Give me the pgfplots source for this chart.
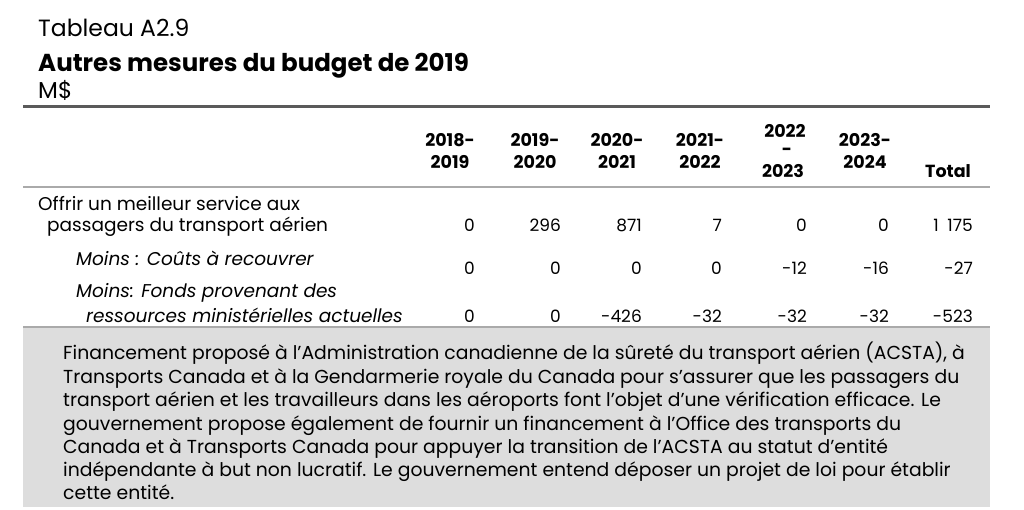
\documentclass[border=0pt]{standalone}
\usepackage{pgfplots}
\pgfplotsset{compat=1.18}
\usepackage{pgfplotstable}
\usepackage{fontspec}
\setmainfont{Poppins}
\definecolor{boxgray}{RGB}{221,221,221}
\definecolor{rulegray}{RGB}{90,90,90}
\definecolor{lightrule}{RGB}{170,170,170}
\pgfplotstableread{
x y label
475 232 0
561 232 296
642 232 871
722 232 7
807 232 0
889 232 0
973 232 {1\enspace175}
475 275 0
561 275 0
642 275 0
722 275 0
807 275 -12
889 275 -16
973 275 -27
475 322 0
561 322 0
642 322 -426
722 322 -32
807 322 -32
889 322 -32
973 322 -523
}\values
\newcommand{\hd}{\fontsize{17.5}{20}\selectfont\bfseries}
\newcommand{\rl}{\fontsize{18.5}{21}\selectfont}
\newcommand{\vl}{\fontsize{17}{20}\selectfont}
\newcommand{\bx}{\fontsize{18.8}{22}\selectfont}
\begin{document}
\begin{tikzpicture}
\begin{axis}[
  width=1024pt, height=510pt, scale only axis,
  xmin=0, xmax=1024, ymin=0, ymax=510, y dir=reverse,
  hide axis, clip=false,
]
\path (axis cs:0,0) rectangle (axis cs:1024,510);
% titles
\node[anchor=base west, inner sep=0pt, font=\fontsize{23.5}{26}\selectfont] at (axis cs:38,37) {Tableau A2.9};
\node[anchor=base west, inner sep=0pt, font=\fontsize{24.5}{26}\selectfont\bfseries] at (axis cs:38,72) {Autres mesures du budget de 2019};
\node[anchor=base west, inner sep=0pt, font=\fontsize{23}{26}\selectfont] at (axis cs:38,99) {M\$};
% rules
\draw[line width=3pt, rulegray] (axis cs:23,107) -- (axis cs:990,107);
\draw[line width=1.5pt, lightrule] (axis cs:23,187) -- (axis cs:990,187);
\draw[line width=1.5pt, lightrule] (axis cs:23,327) -- (axis cs:990,327);
% header
\node[anchor=base, font=\hd] at (axis cs:450,147) {2018-};
\node[anchor=base, font=\hd] at (axis cs:450,169) {2019};
\node[anchor=base, font=\hd] at (axis cs:535,147) {2019-};
\node[anchor=base, font=\hd] at (axis cs:535,169) {2020};
\node[anchor=base, font=\hd] at (axis cs:617,147) {2020-};
\node[anchor=base, font=\hd] at (axis cs:617,169) {2021};
\node[anchor=base, font=\hd] at (axis cs:700,147) {2021-};
\node[anchor=base, font=\hd] at (axis cs:700,169) {2022};
\node[anchor=base, font=\hd] at (axis cs:865,147) {2023-};
\node[anchor=base, font=\hd] at (axis cs:865,169) {2024};
\node[anchor=base, font=\hd] at (axis cs:785,138) {2022};
\node[anchor=base, font=\hd] at (axis cs:787,156) {-};
\node[anchor=base, font=\hd] at (axis cs:783,178) {2023};
\node[anchor=base, font=\hd] at (axis cs:948,178) {Total};
% row labels
\node[anchor=base west, inner sep=0pt, font=\rl] at (axis cs:38,211) {Offrir un meilleur service aux};
\node[anchor=base west, inner sep=0pt, font=\rl] at (axis cs:47,232) {passagers du transport aérien};
\node[anchor=base west, inner sep=0pt, font=\rl\itshape] at (axis cs:76,266) {Moins : Coûts à recouvrer};
\node[anchor=base west, inner sep=0pt, font=\rl\itshape] at (axis cs:76,298) {Moins: Fonds provenant des};
\node[anchor=base west, inner sep=0pt, font=\rl\itshape] at (axis cs:86,322) {ressources ministérielles actuelles};
% values
\addplot[draw=none, mark=none, nodes near coords, point meta=explicit symbolic,
  nodes near coords style={anchor=base east, inner sep=0pt, font=\vl}]
  table[x=x, y=y, meta=label] {\values};
% box
\fill[boxgray] (axis cs:23,328) rectangle (axis cs:990,507);
\node[anchor=base west, inner sep=0pt, font=\bx] at (axis cs:63,359) {Financement proposé à l’Administration canadienne de la sûreté du transport aérien (ACSTA), à};
\node[anchor=base west, inner sep=0pt, font=\bx] at (axis cs:63,383) {Transports Canada et à la Gendarmerie royale du Canada pour s’assurer que les passagers du};
\node[anchor=base west, inner sep=0pt, font=\bx] at (axis cs:63,406) {transport aérien et les travailleurs dans les aéroports font l’objet d’une vérification efficace. Le};
\node[anchor=base west, inner sep=0pt, font=\bx] at (axis cs:63,430) {gouvernement propose également de fournir un financement à l’Office des transports du};
\node[anchor=base west, inner sep=0pt, font=\bx] at (axis cs:63,453) {Canada et à Transports Canada pour appuyer la transition de l’ACSTA au statut d’entité};
\node[anchor=base west, inner sep=0pt, font=\bx] at (axis cs:63,476) {indépendante à but non lucratif. Le gouvernement entend déposer un projet de loi pour établir};
\node[anchor=base west, inner sep=0pt, font=\bx] at (axis cs:63,499) {cette entité.};
\end{axis}
\end{tikzpicture}
\end{document}
